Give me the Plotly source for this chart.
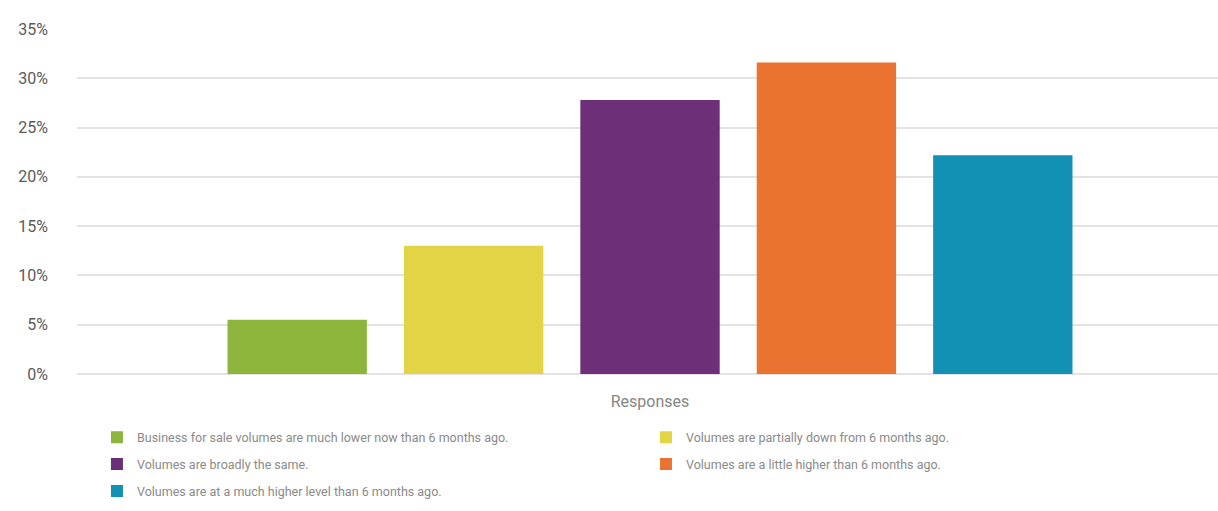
import plotly.graph_objects as go

# Survey: how business-for-sale volumes compare with six months ago
category = ["Responses"]
series_names = [
    "Business for sale volumes are much lower now than 6 months ago.",
    "Volumes are partially down from 6 months ago.",
    "Volumes are broadly the same.",
    "Volumes are a little higher than 6 months ago.",
    "Volumes are at a much higher level than 6 months ago.",
]
series_values = [0.055, 0.13, 0.278, 0.316, 0.222]
series_colors = ["#8db53c", "#e2d444", "#6d2f78", "#eb7331", "#1391b4"]
y_ticks = [0, 0.05, 0.10, 0.15, 0.20, 0.25, 0.30, 0.35]

# two legend entries per row, each row is its own legend box
legend_rows = ["legend", "legend", "legend2", "legend2", "legend3"]

fig = go.Figure()
for name, val, col, lg in zip(series_names, series_values, series_colors, legend_rows):
    fig.add_trace(go.Bar(
        x=category, y=[val], name=name, legend=lg,
        marker=dict(color=col, line=dict(width=0)),
    ))

legend_style = dict(
    orientation="h", x=0.0175, xanchor="left", yanchor="top",
    entrywidth=504, entrywidthmode="pixels",
    font=dict(family="Roboto", size=12.5, color="#8a8a8a"),
    itemwidth=30, traceorder="normal", bgcolor="rgba(0,0,0,0)",
)

fig.update_layout(
    width=1218, height=511,
    margin=dict(l=77, r=0, t=29, b=137),
    paper_bgcolor="white", plot_bgcolor="white",
    barmode="group", bargap=0.227, bargroupgap=0.21,
    font=dict(family="Roboto", color="#808080"),
    showlegend=True,
    legend=dict(legend_style, y=-0.1406),
    legend2=dict(legend_style, y=-0.2188),
    legend3=dict(legend_style, y=-0.2971),
)
fig.update_xaxes(
    range=[-0.5022, 0.4978], showgrid=False, showline=False, ticks="",
    ticklabelstandoff=16,
    tickfont=dict(family="Roboto", size=16, color="#858585"),
)
fig.update_yaxes(
    range=[0, 0.35], tickvals=y_ticks, tickformat=".0%",
    showgrid=True, gridcolor="#e3e3e3", gridwidth=1.5,
    zeroline=True, zerolinecolor="#e3e3e3", zerolinewidth=1.5,
    showline=False, ticks="", ticklabelstandoff=28,
    tickfont=dict(family="Roboto", size=16, color="#5a5a5a"),
)

fig.write_html("out.html")
